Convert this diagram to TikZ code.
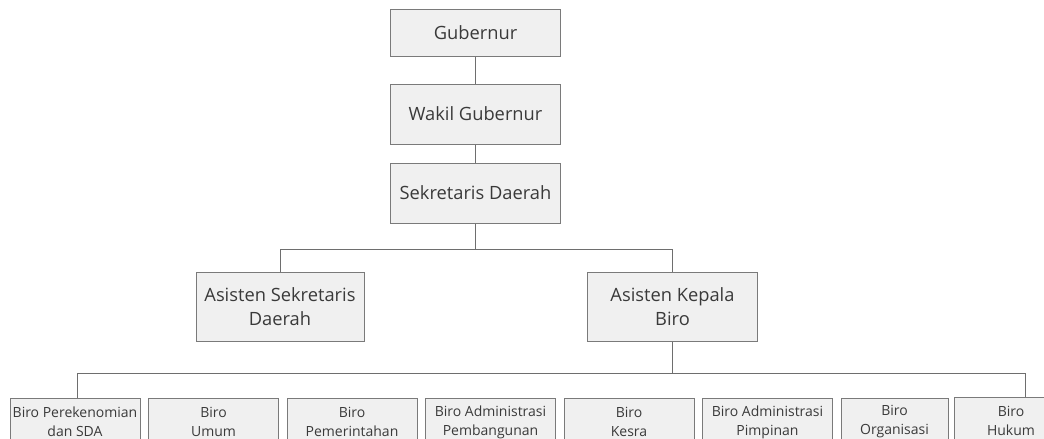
\documentclass[tikz,border=0pt]{standalone}
\usepackage{fontspec}
\setmainfont{Open Sans}
\usetikzlibrary{positioning, calc}
\definecolor{boxfill}{HTML}{F0F0F0}
\definecolor{boxline}{HTML}{7A7A7A}
\definecolor{linkgray}{HTML}{6E6E6E}
\definecolor{darktext}{HTML}{3A3A3A}

\begin{document}
\begin{tikzpicture}[
    x=1pt, y=1pt,
    node distance=27pt and 7.5pt,
    % --- node styles ---
    unit/.style={
        rectangle, minimum width=170pt, minimum height=60pt,
        text centered, draw=boxline, line width=1pt,
        fill=boxfill, text=darktext, font=\fontsize{18.3}{24}\selectfont,
        inner sep=2pt, align=center
    },
    biro/.style={
        rectangle, minimum width=130pt, minimum height=48pt,
        text centered, draw=boxline, line width=1pt,
        fill=boxfill, text=darktext, font=\fontsize{14}{19}\selectfont,
        inner sep=1pt, align=center
    },
    link/.style={draw=linkgray, line width=1pt},
]

\useasboundingbox (0,0) rectangle (1044,-439);
\clip (0,0) rectangle (1044,-439);

% ===== TOP CHAIN =====
\node[unit, minimum height=47pt] (gub) at (475.5,-32.5) {Gubernur};

\node[unit, below=of gub] (wakil) {Wakil Gubernur};
\draw[link] (gub) -- (wakil);

\node[unit, below=18pt of wakil] (sekda) {Sekretaris Daerah};
\draw[link] (wakil) -- (sekda);

% ===== ASISTEN =====
\node[unit, minimum width=168pt, minimum height=69pt] (asek) at (280,-306.5)
    {Asisten Sekretaris\\Daerah};
\node[unit, minimum height=69pt] (akb) at (672.5,-306.5)
    {Asisten Kepala\\Biro};

\coordinate (split1) at ($(sekda.south)+(0,-26)$);
\draw[link] (sekda) -- (split1) -| (asek);
\draw[link] (split1) -| (akb);

% ===== BIRO ROW =====
\node[biro] (perek) at (75,-422) {Biro Perekenomian\\dan SDA};
\node[biro, right=of perek] (umum) {Biro\\Umum};
\node[biro, right=of umum] (pemer) {Biro\\Pemerintahan};
\node[biro, right=of pemer] (pemb) {Biro Administrasi\\Pembangunan};
\node[biro, right=of pemb] (kesra) {Biro\\Kesra};
\node[biro, right=of kesra] (pimp) {Biro Administrasi\\Pimpinan};
\node[biro, minimum width=107pt, right=of pimp] (organ) {Biro\\Organisasi};
\node[biro, minimum width=114pt, right=5pt of organ, yshift=1pt] (hukum) {Biro\\Hukum};

\coordinate (split2) at ($(akb.south)+(0,-32)$);
\draw[link] (akb) -- (split2);
\draw[link] (split2) -| ([xshift=2pt]perek.north);
\draw[link] (split2) -| ([xshift=14pt]hukum.north);

\end{tikzpicture}
\end{document}
